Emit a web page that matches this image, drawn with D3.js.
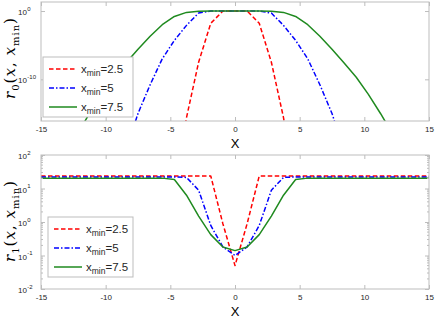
<!DOCTYPE html>
<html><head><meta charset="utf-8">
<script src="https://cdn.jsdelivr.net/npm/d3@7/dist/d3.min.js"></script>
<style>body{margin:0;background:#fff}svg{display:block}</style>
</head><body>
<svg id="c" width="436" height="318"></svg>
<script>
// ---------- data ----------
const xGrid = [-15,-14.0625,-13.125,-12.1875,-11.25,-10.3125,-9.375,-8.4375,-7.5,-6.5625,-5.625,-4.6875,-3.75,-2.8125,-1.875,-0.9375,0,0.9375,1.875,2.8125,3.75,4.6875,5.625,6.5625,7.5,8.4375,9.375,10.3125,11.25,12.1875,13.125,14.0625,15];

const seriesNames = ["2.5", "5", "7.5"];

// top panel r0(x, xmin)
const r0_xmin25 = [1e-279,1e-246,1e-215,1e-186,1e-159,1e-134,1e-111,1e-90,1e-71,1e-54,1e-39,1e-26,2.5e-16,3.2e-8,1.6e-2,1,1,1,1.6e-2,3.2e-8,2.5e-16,1e-26,1e-39,1e-54,1e-71,1e-90,1e-111,1e-134,1e-159,1e-186,1e-215,1e-246,1e-279];
const r0_xmin5 = [1e-76,1e-66,1e-57,1e-48,1e-40,1e-33,3.2e-27,3.2e-21,1e-15,1.6e-11,1e-7,5e-5,7.9e-3,0.5,1,1,1,1,1,0.5,7.9e-3,5e-5,1e-7,1.6e-11,1e-15,3.2e-21,3.2e-27,1e-33,1e-40,1e-48,1e-57,1e-66,1e-76];
const r0_xmin75 = [1e-29,1e-25,3.2e-22,1e-18,1e-15,6.3e-13,2e-10,2.5e-8,2.5e-6,2e-4,1e-2,0.16,0.63,0.95,1,1,1,1,1,0.95,0.63,0.16,1e-2,2e-4,2.5e-6,2.5e-8,2e-10,6.3e-13,1e-15,1e-18,3.2e-22,1e-25,1e-29];

// bottom panel r1(x, xmin)
const r1_xmin25 = [23.7,23.7,23.7,23.7,23.7,23.7,23.7,23.7,23.7,23.7,23.7,23.7,23.7,23.7,23.7,0.89,0.05,0.89,23.7,23.7,23.7,23.7,23.7,23.7,23.7,23.7,23.7,23.7,23.7,23.7,23.7,23.7,23.7];
const r1_xmin5 = [22.1,22.1,22.1,22.1,22.1,22.1,22.1,22.1,22.1,22.1,22.1,22.1,21.4,8.9,0.79,0.18,0.1,0.18,0.79,8.9,21.4,22.1,22.1,22.1,22.1,22.1,22.1,22.1,22.1,22.1,22.1,22.1,22.1];
const r1_xmin75 = [20.4,20.4,20.4,20.4,20.4,20.4,20.4,20.4,20.4,20.4,20.4,18.6,6.3,1.5,0.42,0.18,0.14,0.18,0.42,1.5,6.3,18.6,20.4,20.4,20.4,20.4,20.4,20.4,20.4,20.4,20.4,20.4,20.4];

const xTicks = [-15,-10,-5,0,5,10,15];
const topYTicks = [1e-10, 1];
const topYTickExp = ["-10", "0"];
const botYTicks = [1e-2, 1e-1, 1, 1e1, 1e2];
const botYTickExp = ["-2", "-1", "0", "1", "2"];

// ---------- styles ----------
const colors = ["#ff0000", "#0000ff", "#1f8a1f"];
const dashes = ["4.5,2.5", "5,2,1.5,2", null];
const axisCol = "#bdbdbd";
const labelCol = "#262626";
const sansF = "'Liberation Sans', Arial, Helvetica, sans-serif";
const serifF = "'DejaVu Serif', 'Liberation Serif', serif";

const svg = d3.select("#c");
const L = 41, R = 429;
const x = d3.scaleLinear().domain([-15, 15]).range([L, R]);

function panel(cfg) {
  const {top, bottom, yDomain, yTicks, yExp, series, minor, sub, legend, clipId, labelCY} = cfg;
  const y = d3.scaleLog().domain(yDomain).range([bottom, top]);
  const g = svg.append("g");
  g.append("clipPath").attr("id", clipId).append("rect")
    .attr("x", L).attr("y", top).attr("width", R - L).attr("height", bottom - top);

  // lines
  const line = d3.line().x((d, i) => x(xGrid[i])).y(d => y(d));
  const lg = g.append("g").attr("clip-path", `url(#${clipId})`);
  series.forEach((s, i) => {
    lg.append("path").datum(s).attr("d", line)
      .attr("fill", "none").attr("stroke", colors[i]).attr("stroke-width", 1.5)
      .attr("stroke-dasharray", dashes[i]).attr("stroke-linejoin", "round");
  });

  // box
  g.append("rect").attr("x", L).attr("y", top).attr("width", R - L).attr("height", bottom - top)
    .attr("fill", "none").attr("stroke", axisCol).attr("stroke-width", 1);

  // x ticks (bottom + top)
  const xa = d3.axisBottom(x).tickValues(xTicks).tickSizeInner(-4).tickSizeOuter(0).tickPadding(5)
    .tickFormat(d3.format("d"));
  const xg = g.append("g").attr("transform", `translate(0,${bottom})`).call(xa);
  xg.select(".domain").remove();
  xg.selectAll("line").attr("stroke", axisCol);
  xg.selectAll("text").attr("font-family", sansF).attr("font-size", 8).attr("fill", labelCol)
    .text(d => d < 0 ? "-" + Math.abs(d) : d);
  const xt = d3.axisTop(x).tickValues(xTicks).tickSizeInner(-4).tickSizeOuter(0).tickFormat("");
  const xtg = g.append("g").attr("transform", `translate(0,${top})`).call(xt);
  xtg.select(".domain").remove();
  xtg.selectAll("line").attr("stroke", axisCol);

  // y ticks left + right
  const ya = d3.axisLeft(y).tickValues(yTicks).tickSizeInner(-4).tickSizeOuter(0).tickFormat("");
  const yg = g.append("g").attr("transform", `translate(${L},0)`).call(ya);
  yg.select(".domain").remove();
  yg.selectAll("line").attr("stroke", axisCol);
  const yr = d3.axisRight(y).tickValues(yTicks).tickSizeInner(-4).tickSizeOuter(0).tickFormat("");
  const yrg = g.append("g").attr("transform", `translate(${R},0)`).call(yr);
  yrg.select(".domain").remove();
  yrg.selectAll("line").attr("stroke", axisCol);

  if (minor) {
    const mv = [];
    for (let e = -2; e < 2; e++) for (let m = 2; m <= 9; m++) mv.push(m * Math.pow(10, e));
    [[L, 1], [R, -1]].forEach(([px, dir]) => {
      g.append("g").selectAll("line").data(mv).join("line")
        .attr("x1", px).attr("x2", px + dir * 2).attr("y1", d => y(d)).attr("y2", d => y(d))
        .attr("stroke", axisCol);
    });
  }

  // y tick labels 10^n : base right-aligned, exponent to its right
  yTicks.forEach((v, i) => {
    g.append("text").attr("x", 27).attr("y", y(v) + 4)
      .attr("text-anchor", "end").attr("font-family", sansF).attr("fill", labelCol).attr("font-size", 8)
      .text("10");
    g.append("text").attr("x", 27.3).attr("y", y(v) - 0.5)
      .attr("text-anchor", "start").attr("font-family", sansF).attr("fill", labelCol).attr("font-size", 6)
      .text(yExp[i]);
  });

  // x label
  g.append("text").attr("x", x(0)).attr("y", bottom + 27).attr("text-anchor", "middle")
    .attr("font-family", sansF).attr("font-size", 13).attr("fill", "#000").text("X");

  // y label r_n(x, x_min)
  const yl = g.append("text").attr("transform", `translate(15,${labelCY}) rotate(-90)`)
    .attr("text-anchor", "middle").attr("font-family", serifF).attr("font-size", 15).attr("fill", "#000");
  yl.append("tspan").attr("font-style", "italic").text("r");
  yl.append("tspan").attr("dy", 3.5).attr("font-size", 10).text(sub);
  yl.append("tspan").attr("dy", -3.5).text("(");
  yl.append("tspan").attr("font-style", "italic").text("x");
  yl.append("tspan").text(", ");
  yl.append("tspan").attr("font-style", "italic").text("x");
  yl.append("tspan").attr("dy", 3.5).attr("font-size", 10).text("min");
  yl.append("tspan").attr("dy", -3.5).text(")");
  const len = yl.node().getComputedTextLength();
  if (len > 0 && len < 82) yl.attr("letter-spacing", ((82 - len) / 11).toFixed(2));

  // legend
  const {lx, ly, lw, lh} = legend;
  g.append("rect").attr("x", lx).attr("y", ly).attr("width", lw).attr("height", lh)
    .attr("fill", "#fff").attr("stroke", axisCol).attr("stroke-width", 1);
  seriesNames.forEach((n, i) => {
    const cy = ly + 12 + i * 19;
    g.append("line").attr("x1", lx + 6).attr("x2", lx + 34).attr("y1", cy).attr("y2", cy)
      .attr("stroke", colors[i]).attr("stroke-width", 1.5).attr("stroke-dasharray", dashes[i]);
    const t = g.append("text").attr("x", lx + 38).attr("y", cy + 3.5)
      .attr("font-family", sansF).attr("font-size", 11.5).attr("fill", labelCol);
    t.append("tspan").text("x");
    t.append("tspan").attr("dy", 3).attr("font-size", 8.5).text("min");
    t.append("tspan").attr("dy", -3).text("=" + n);
  });
}

panel({
  top: 2, bottom: 121, yDomain: [Math.pow(10, -16.1), Math.pow(10, 1.32)],
  yTicks: topYTicks, yExp: topYTickExp,
  series: [r0_xmin25, r0_xmin5, r0_xmin75], minor: false, sub: "0",
  legend: {lx: 43, ly: 57, lw: 90, lh: 60}, clipId: "clipTop", labelCY: 58
});
panel({
  top: 155, bottom: 289, yDomain: [1e-2, 1e2],
  yTicks: botYTicks, yExp: botYTickExp,
  series: [r1_xmin25, r1_xmin5, r1_xmin75], minor: true, sub: "1",
  legend: {lx: 48, ly: 217, lw: 85, lh: 60}, clipId: "clipBot", labelCY: 221
});
</script>
</body></html>
